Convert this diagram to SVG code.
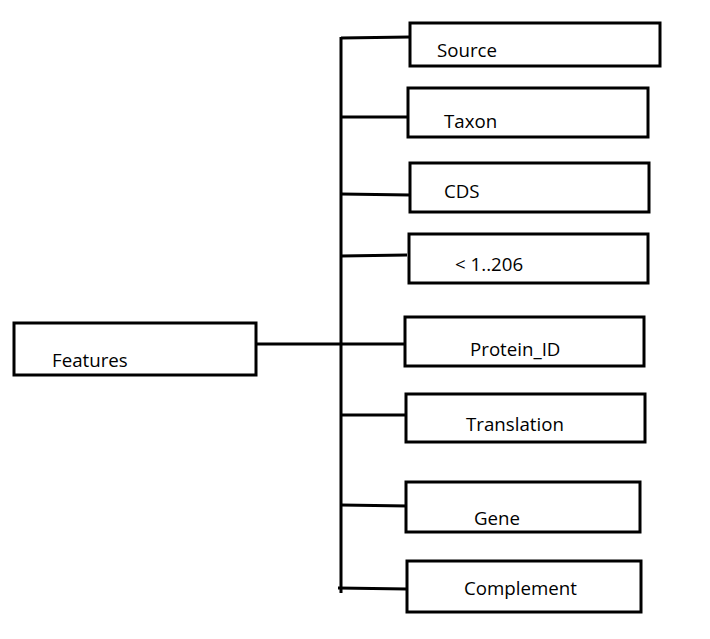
<svg xmlns="http://www.w3.org/2000/svg" width="710" height="639" viewBox="0 0 710 639">
<style>
.box{fill:#fff;stroke:#000;stroke-width:3}
.ln{stroke:#000;stroke-width:3;fill:none}
text{font-family:"Open Sans","Noto Sans",sans-serif;font-size:18.7px;fill:#000}
</style>
<rect width="710" height="639" fill="#fff"/>
<g id="connectors">
<line class="ln" x1="341" y1="37" x2="341" y2="593"/>
<line class="ln" x1="256" y1="344" x2="405" y2="344"/>
<line class="ln" x1="341" y1="38" x2="410" y2="37"/>
<line class="ln" x1="341" y1="117" x2="408" y2="117"/>
<line class="ln" x1="341" y1="194" x2="410" y2="195"/>
<line class="ln" x1="341" y1="256" x2="407" y2="255"/>
<line class="ln" x1="341" y1="415" x2="406" y2="415"/>
<line class="ln" x1="341" y1="505" x2="408" y2="506"/>
<line class="ln" x1="338" y1="588" x2="407" y2="589"/>
</g>
<g id="features"><rect class="box" x="14" y="323" width="242" height="52"/><text x="52" y="367">Features</text></g>
<g id="source"><rect class="box" x="410" y="23" width="250" height="43"/><text x="437" y="57">Source</text></g>
<g id="taxon"><rect class="box" x="408" y="88" width="240" height="49"/><text x="444" y="128">Taxon</text></g>
<g id="cds"><rect class="box" x="410" y="163" width="239" height="49"/><text x="444" y="198">CDS</text></g>
<g id="range"><rect class="box" x="409" y="234" width="239" height="49"/><text x="455" y="271">&lt; 1..206</text></g>
<g id="protein_id"><rect class="box" x="405" y="317" width="239" height="49"/><text x="470" y="356">Protein_ID</text></g>
<g id="translation"><rect class="box" x="406" y="394" width="239" height="48"/><text x="466" y="431">Translation</text></g>
<g id="gene"><rect class="box" x="406" y="482" width="234" height="50"/><text x="474" y="525">Gene</text></g>
<g id="complement"><rect class="box" x="407" y="561" width="234" height="51"/><text x="464" y="595">Complement</text></g>
</svg>
